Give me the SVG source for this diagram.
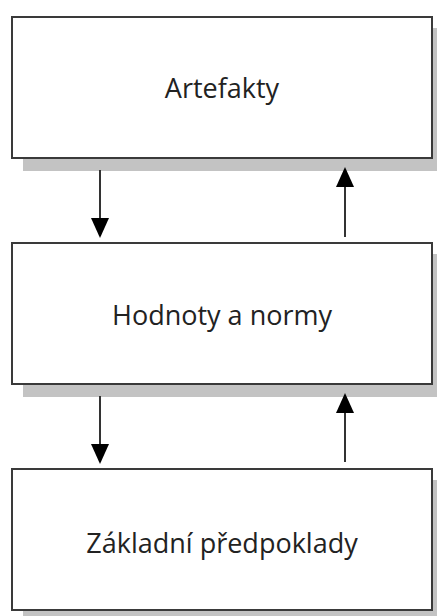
<svg xmlns="http://www.w3.org/2000/svg" width="437" height="616" viewBox="0 0 437 616">
<style>
.shadow{fill:#c3c3c3}
.box{fill:#fff;stroke:#3a3a3a;stroke-width:2}
.lbl{font-family:"Open Sans","Liberation Sans",sans-serif;font-size:27px;fill:#222;text-anchor:middle}
.conn{stroke:#333;stroke-width:2;fill:none}
</style>
<defs>
<marker id="ah" viewBox="0 0 20 18" refX="18" refY="9" markerWidth="20" markerHeight="18" markerUnits="userSpaceOnUse" orient="auto">
<path d="M0,0 L20,9 L0,18 Z" fill="#000"/>
</marker>
</defs>
<g id="node-artefakty">
<rect class="shadow" x="23" y="28" width="420" height="143"/>
<rect class="box" x="12" y="17" width="420" height="141"/>
<text class="lbl" x="222" y="98">Artefakty</text>
</g>
<g id="node-hodnoty">
<rect class="shadow" x="23" y="254" width="420" height="143"/>
<rect class="box" x="12" y="243" width="420" height="141"/>
<text class="lbl" x="222" y="325">Hodnoty a normy</text>
</g>
<g id="node-zakladni">
<rect class="shadow" x="23" y="480" width="420" height="143"/>
<rect class="box" x="12" y="469" width="420" height="141"/>
<text class="lbl" x="222" y="553">Základní předpoklady</text>
</g>
<g id="connectors">
<line class="conn" x1="100" y1="170" x2="100" y2="236" marker-end="url(#ah)"/>
<line class="conn" x1="345" y1="237" x2="345" y2="169" marker-end="url(#ah)"/>
<line class="conn" x1="100" y1="396" x2="100" y2="462" marker-end="url(#ah)"/>
<line class="conn" x1="345" y1="462" x2="345" y2="395" marker-end="url(#ah)"/>
</g>
</svg>
